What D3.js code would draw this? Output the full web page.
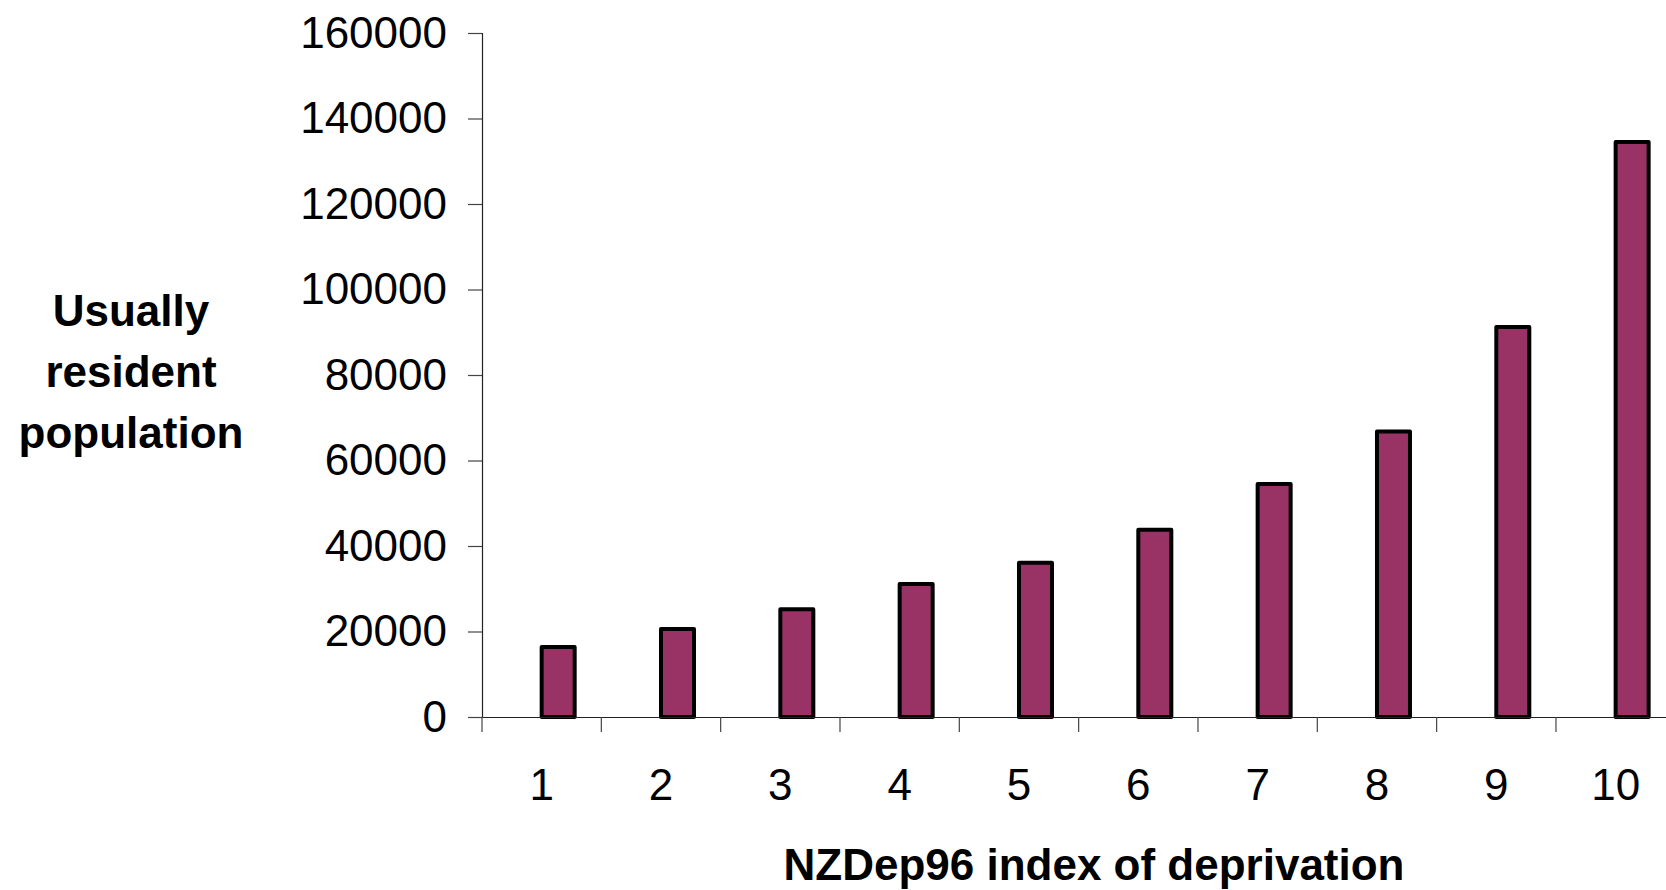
<!DOCTYPE html>
<html>
<head>
<meta charset="utf-8">
<script src="https://cdn.jsdelivr.net/npm/d3@7"></script>
<style>
  body { margin: 0; background: #fff; }
  text { font-family: "Liberation Sans", Arial, sans-serif; }
</style>
</head>
<body>
<div id="chart"></div>
<script>
// Data
let deciles = ["1", "2", "3", "4", "5", "6", "7", "8", "9", "10"];
let population = [16400, 20600, 25200, 31100, 36100, 43800, 54500, 66800, 91200, 134500];
let yTicks = [0, 20000, 40000, 60000, 80000, 100000, 120000, 140000, 160000];

let W = 1666, H = 890;
let margin = { top: 33, left: 482, bottom: 173 };
let bandW = 119.33;
let plotH = H - margin.top - margin.bottom;

let svg = d3
  .select("#chart")
  .append("svg")
  .attr("width", W)
  .attr("height", H);

let x = d3
  .scaleBand()
  .domain(deciles)
  .range([margin.left, margin.left + bandW * deciles.length])
  .padding(0);

let y = d3
  .scaleLinear()
  .domain([0, 160000])
  .range([margin.top + plotH, margin.top]);

// Bars (Excel places them starting at the category centre here)
svg
  .selectAll(".bar")
  .data(population)
  .enter()
  .append("rect")
  .attr("class", "bar")
  .attr("x", (d, i) => x(deciles[i]) + x.bandwidth() / 2)
  .attr("y", (d) => y(d))
  .attr("width", 33)
  .attr("height", (d) => y(0) - y(d))
  .attr("fill", "#993366")
  .attr("stroke", "#000")
  .attr("stroke-width", 4)
  .attr("stroke-linejoin", "round");

// Y axis
let yAxis = svg
  .append("g")
  .attr("transform", `translate(${margin.left},0)`)
  .call(d3.axisLeft(y).tickValues(yTicks).tickSize(14).tickPadding(21).tickFormat(d3.format("d")));

yAxis.select(".domain").attr("stroke", "#222").attr("stroke-width", 1.2);
yAxis.selectAll(".tick line").attr("stroke", "#444").attr("stroke-width", 1.2);
yAxis
  .selectAll(".tick text")
  .style("font-size", "44px")
  .style("font-family", "'Liberation Sans', Arial, sans-serif")
  .attr("fill", "#000");

// X axis: labels at category centres
let xAxis = svg
  .append("g")
  .attr("transform", `translate(0,${y(0)})`)
  .call(d3.axisBottom(x).tickSize(0).tickPadding(52));

xAxis.select(".domain").attr("stroke", "#222").attr("stroke-width", 1.2);
xAxis
  .selectAll(".tick text")
  .style("font-size", "44px")
  .style("font-family", "'Liberation Sans', Arial, sans-serif")
  .attr("fill", "#000");

// Category boundary tick marks
svg
  .append("g")
  .selectAll("line")
  .data(deciles)
  .enter()
  .append("line")
  .attr("x1", (d) => x(d))
  .attr("x2", (d) => x(d))
  .attr("y1", y(0))
  .attr("y2", y(0) + 15)
  .attr("stroke", "#444")
  .attr("stroke-width", 1.2);

// Y axis title
svg
  .append("text")
  .attr("x", 131)
  .attr("y", 326)
  .attr("text-anchor", "middle")
  .style("font-size", "44px")
  .style("font-weight", "bold")
  .selectAll("tspan")
  .data(["Usually", "resident", "population"])
  .enter()
  .append("tspan")
  .attr("x", 131)
  .attr("dy", (d, i) => (i === 0 ? 0 : 61))
  .text((d) => d);

// X axis title
svg
  .append("text")
  .attr("x", 1094)
  .attr("y", 880)
  .attr("text-anchor", "middle")
  .style("font-size", "44px")
  .style("font-weight", "bold")
  .text("NZDep96 index of deprivation");
</script>
</body>
</html>
